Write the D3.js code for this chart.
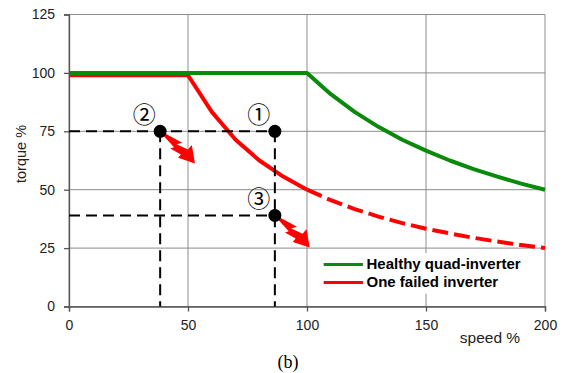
<!DOCTYPE html>
<html>
<head>
<meta charset="utf-8">
<script src="https://cdn.jsdelivr.net/npm/d3@7"></script>
<style>
  html, body { margin: 0; padding: 0; background: #fff; }
  svg { display: block; }
  text { font-family: Arial, "Liberation Sans", sans-serif; }
</style>
</head>
<body>
<svg id="chart" width="570" height="373"></svg>
<script>
// Torque limit curves (speed %, torque %)
const healthySpeed  = [0, 10, 20, 30, 40, 50, 60, 70, 80, 90, 100, 110, 120, 130, 140, 150, 160, 170, 180, 190, 200];
const healthyTorque = [100, 100, 100, 100, 100, 100, 100, 100, 100, 100, 100, 90.9, 83.3, 76.9, 71.4, 66.7, 62.5, 58.8, 55.6, 52.6, 50];

const failedSpeed  = [0, 10, 20, 30, 40, 50, 60, 70, 80, 90, 100, 110, 120, 130, 140, 150, 160, 170, 180, 190, 200];
const failedTorque = [99, 99, 99, 99, 99, 99, 83.3, 71.4, 62.5, 55.6, 50, 45.5, 41.7, 38.5, 35.7, 33.3, 31.3, 29.4, 27.8, 26.3, 25];
const failedSolidEnd = 100; // beyond this speed the failed-inverter curve is dashed

// Operating points
const pointLabels = ["①", "②", "③"];
const pointSpeed  = [86.5, 38.3, 86.5];
const pointTorque = [75, 75, 39];

const xTicks = [0, 50, 100, 150, 200];
const yTicks = [0, 25, 50, 75, 100, 125];

const seriesNames  = ["Healthy quad-inverter", "One failed inverter"];
const seriesColors = ["#0a8a0a", "#ff0000"];

const svg = d3.select("#chart");
const margin = { left: 69, right: 25, top: 14.5, bottom: 66.5 };
const W = 570, H = 373;

const x = d3.scaleLinear().domain([0, 200]).range([margin.left, W - margin.right]);
const y = d3.scaleLinear().domain([0, 125]).range([H - margin.bottom, margin.top]);

const gridColor = "#8c8c8c";

// Grid lines
svg.append("g").selectAll("line").data(xTicks).join("line")
  .attr("x1", d => x(d)).attr("x2", d => x(d))
  .attr("y1", y(0)).attr("y2", y(125))
  .attr("stroke", gridColor).attr("stroke-width", 1);
svg.append("g").selectAll("line").data(yTicks).join("line")
  .attr("x1", x(0)).attr("x2", x(200))
  .attr("y1", d => y(d)).attr("y2", d => y(d))
  .attr("stroke", gridColor).attr("stroke-width", 1);

// Axes
const xAxis = svg.append("g").attr("transform", `translate(0,${y(0)})`)
  .call(d3.axisBottom(x).tickValues(xTicks).tickSize(5).tickPadding(9));
const yAxis = svg.append("g").attr("transform", `translate(${x(0)},0)`)
  .call(d3.axisLeft(y).tickValues(yTicks).tickSize(5).tickPadding(9));
[xAxis, yAxis].forEach(g => {
  g.select(".domain").attr("stroke", "#555").attr("stroke-width", 1.3);
  g.selectAll(".tick line").attr("stroke", "#555").attr("stroke-width", 1.3);
  g.selectAll(".tick text").attr("font-size", 14).attr("fill", "#222")
    .attr("font-family", "Arial, 'Liberation Sans', sans-serif");
});

// Legend background (covers grid)
const legY = y(22.8);
svg.append("rect").attr("x", x(103)).attr("y", legY)
  .attr("width", x(198) - x(103)).attr("height", y(5.5) - legY)
  .attr("fill", "#fff");

// Curves
const line = d3.line().x(d => x(d[0])).y(d => y(d[1]));
const healthy = healthySpeed.map((s, i) => [s, healthyTorque[i]]);
const failed = failedSpeed.map((s, i) => [s, failedTorque[i]]);

svg.append("path").datum(failed.filter(d => d[0] <= failedSolidEnd))
  .attr("d", line).attr("fill", "none").attr("stroke", seriesColors[1])
  .attr("stroke-width", 4).attr("stroke-linejoin", "round");
svg.append("path").datum(failed.filter(d => d[0] >= failedSolidEnd))
  .attr("d", line).attr("fill", "none").attr("stroke", seriesColors[1])
  .attr("stroke-width", 4).attr("stroke-dasharray", "16,6");
svg.append("path").datum(healthy)
  .attr("d", line).attr("fill", "none").attr("stroke", seriesColors[0])
  .attr("stroke-width", 4).attr("stroke-linejoin", "round");

// Dashed guide lines to the operating points
const guides = [
  [[0, pointTorque[0]], [pointSpeed[0], pointTorque[0]]],
  [[0, pointTorque[2]], [pointSpeed[2], pointTorque[2]]],
  [[pointSpeed[1], pointTorque[1]], [pointSpeed[1], 0]],
  [[pointSpeed[0], pointTorque[0]], [pointSpeed[0], 0]]
];
svg.append("g").selectAll("path").data(guides).join("path")
  .attr("d", line).attr("fill", "none").attr("stroke", "#000")
  .attr("stroke-width", 2).attr("stroke-dasharray", "11,6");

// Lightning-bolt fault arrows from points ② and ③ (local shape, pointing along +x)
const bolt = [[0,-0.5],[22,-5],[19,-0.5],[30,-3.5],[30,-9],[43,2],[28,8],[28,4],[17,6],[19,3],[0,0.5]];
[1, 2].forEach(i => {
  svg.append("path")
    .attr("d", d3.line()(bolt) + "Z")
    .attr("transform", `translate(${x(pointSpeed[i])},${y(pointTorque[i])}) rotate(40) scale(1.1)`)
    .attr("fill", "#ff0000");
});

// Points
svg.append("g").selectAll("circle").data(pointSpeed).join("circle")
  .attr("cx", d => x(d)).attr("cy", (d, i) => y(pointTorque[i]))
  .attr("r", 6.5).attr("fill", "#000");

// Point labels
svg.append("g").selectAll("text").data(pointLabels).join("text")
  .attr("x", (d, i) => x(pointSpeed[i]) - 16)
  .attr("y", (d, i) => y(pointTorque[i]) - 8)
  .attr("text-anchor", "middle")
  .attr("font-size", 23)
  .style("font-family", "'Noto Sans CJK JP', 'DejaVu Sans', sans-serif")
  .attr("fill", "#000")
  .text(d => d);

// Legend
seriesNames.forEach((name, i) => {
  const ly = y(18) + i * 18;
  svg.append("line").attr("x1", x(107)).attr("x2", x(123.5))
    .attr("y1", ly).attr("y2", ly)
    .attr("stroke", seriesColors[i]).attr("stroke-width", 3);
  svg.append("text").attr("x", x(125)).attr("y", ly + 5)
    .attr("font-size", 15).attr("font-weight", "bold").attr("fill", "#000")
    .text(name);
});

// Axis titles
svg.append("text").attr("transform", `translate(26,154) rotate(-90)`)
  .attr("text-anchor", "middle").attr("font-size", 14.5).attr("fill", "#222")
  .text("torque %");
svg.append("text").attr("x", 490).attr("y", 343)
  .attr("text-anchor", "middle").attr("font-size", 15.5).attr("fill", "#222")
  .text("speed %");

// Caption
svg.append("text").attr("x", 288).attr("y", 368)
  .attr("text-anchor", "middle").attr("font-size", 18).attr("fill", "#000")
  .style("font-family", "'Liberation Serif', 'Times New Roman', serif")
  .text("(b)");
</script>
</body>
</html>
